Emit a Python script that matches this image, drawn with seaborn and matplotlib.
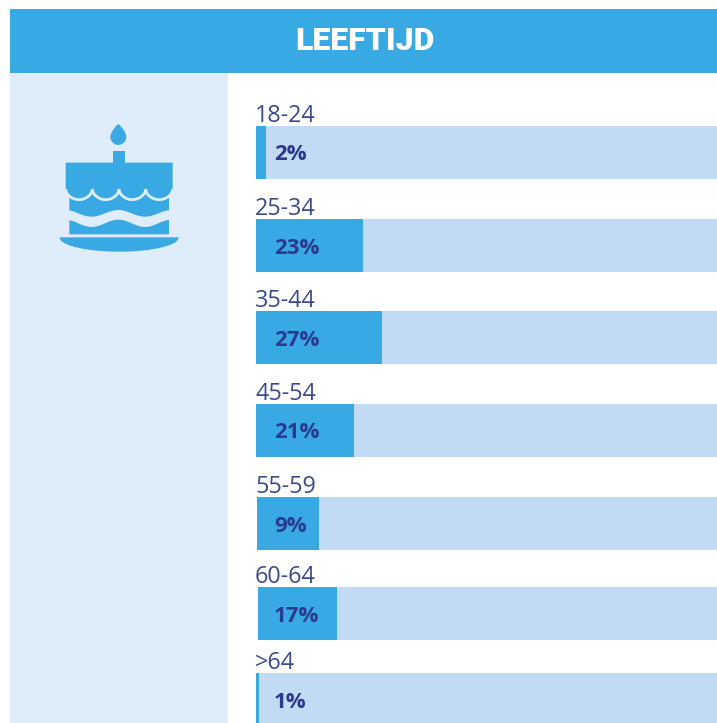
import numpy as np
import pandas as pd
import matplotlib
matplotlib.use('Agg')
import matplotlib.pyplot as plt
import seaborn as sns
from matplotlib.patches import Rectangle, Polygon

sns.set_theme(style='white')
plt.rcParams['font.family'] = ['Open Sans', 'DejaVu Sans']

title = 'LEEFTIJD'
ages = ['18-24', '25-34', '35-44', '45-54', '55-59', '60-64', '>64']
labels = ['2%', '23%', '27%', '21%', '9%', '17%', '1%']
# drawn bar lengths (55-59 is longer than its label says)
lengths = [2.1, 23, 27, 21, 13.4, 17, 0.6]
track = [100, 100, 100, 100, 100, 100, 100]

# row layout in pixels
row_top = [126, 219, 311, 404, 497, 587, 673]
row_left = [256, 256, 256, 256, 257, 258, 256]
row_h = 53
px_per_unit = 4.65

W, H = 717, 723
BLUE = '#38a9e2'
TRACK = '#c2dbf4'
PANEL = '#dfecf9'
DARK = '#2b3a8f'
LABEL = '#3c4a8c'

fig = plt.figure(figsize=(W / 100, H / 100), dpi=100, facecolor='white')

# background axes in pixel coordinates
bg = fig.add_axes([0, 0, 1, 1])
bg.set_xlim(0, W)
bg.set_ylim(H, 0)
bg.axis('off')
bg.add_patch(Rectangle((10, 9), W - 10, 64, color=BLUE, lw=0))
bg.add_patch(Rectangle((10, 73), 218, H - 73, color=PANEL, lw=0))
bg.text(364.5, 41, title, color='white', fontsize=23, fontweight=900,
        family=['Roboto', 'DejaVu Sans'], ha='center', va='center')


# cake icon, coordinates from the zoomed crop
def cx(x):
    return 30 + np.asarray(x, dtype=float) / 3


def cy(y):
    return 100 + np.asarray(y, dtype=float) / 3


def poly(xs, ys, **kw):
    bg.add_patch(Polygon(np.column_stack([cx(xs), cy(ys)]), closed=True, lw=0, **kw))


# flame and candle
t = np.linspace(0, 1, 60)
half = 24 * np.sin(np.pi * t ** 1.5) ** 0.55
poly(np.r_[265 - half, (265 + half)[::-1]], np.r_[72 + 63 * t, (72 + 63 * t)[::-1]], color=BLUE)
bg.add_patch(Rectangle((cx(250), cy(152)), 34 / 3, 38 / 3, color=BLUE, lw=0))

# middle and lower layers with the light wave between them
wx = np.linspace(118, 417, 80)
wave = np.cos((wx - 265) / 80 * np.pi)
poly(np.r_[wx, wx[::-1]], np.r_[np.full(80, 270), (340 - 10 * wave)[::-1]], color=BLUE)
poly(np.r_[wx, wx[::-1]], np.r_[370 - 11 * wave, np.full(80, 403)], color=BLUE)

# top layer with scalloped edge, light outline leaves the gap
sx, sy = [107, 428], [188, 188]
edges = [428, 347, 267, 187, 107]
for a, b in zip(edges[:-1], edges[1:]):
    s = np.linspace(0, 1, 30)
    sx.extend(a + (b - a) * s)
    sy.extend(264 + 31 * np.sin(np.pi * s) ** 0.5)
poly(sx, sy, color=BLUE)
for a, b in zip(edges[:-1], edges[1:]):
    s = np.linspace(0, 1, 30)
    bg.plot(cx(a + (b - a) * s), cy(268 + 31 * np.sin(np.pi * s) ** 0.5),
            color=PANEL, lw=2, solid_capstyle='butt')

# plate
px = np.linspace(88, 447, 60)
poly(np.r_[px, px[::-1]],
     np.r_[np.full(60, 412), (412 + 43 * np.sqrt(1 - ((px - 267.5) / 179.5) ** 2))[::-1]],
     color=BLUE)

# one small axes per row, the rows are not evenly spaced
for i, age in enumerate(ages):
    ax = fig.add_axes([row_left[i] / W, 1 - (row_top[i] + row_h) / H,
                       100 * px_per_unit / W, row_h / H])
    ax.patch.set_alpha(0)
    df = pd.DataFrame({'age': [age], 'track': [track[i]], 'length': [lengths[i]]})
    sns.barplot(data=df, x='track', y='age', color=TRACK, width=1, saturation=1,
                linewidth=0, ax=ax)
    sns.barplot(data=df, x='length', y='age', color=BLUE, width=1, saturation=1,
                linewidth=0, ax=ax)
    ax.set_xlim(0, 100)
    ax.axis('off')
    ax.annotate(age, xy=(0, 1), xycoords='axes fraction', xytext=((255 - row_left[i]) * 0.72, 3),
                textcoords='offset points', color=LABEL, fontsize=16.8,
                ha='left', va='baseline', annotation_clip=False)
    ax.annotate(labels[i], xy=(0, 0.5), xycoords='axes fraction',
                xytext=((274 - row_left[i]) * 0.72, 0), textcoords='offset points',
                color=DARK, fontsize=16, fontweight='bold', ha='left', va='center_baseline',
                annotation_clip=False)

fig.savefig('out.png', dpi=100)
